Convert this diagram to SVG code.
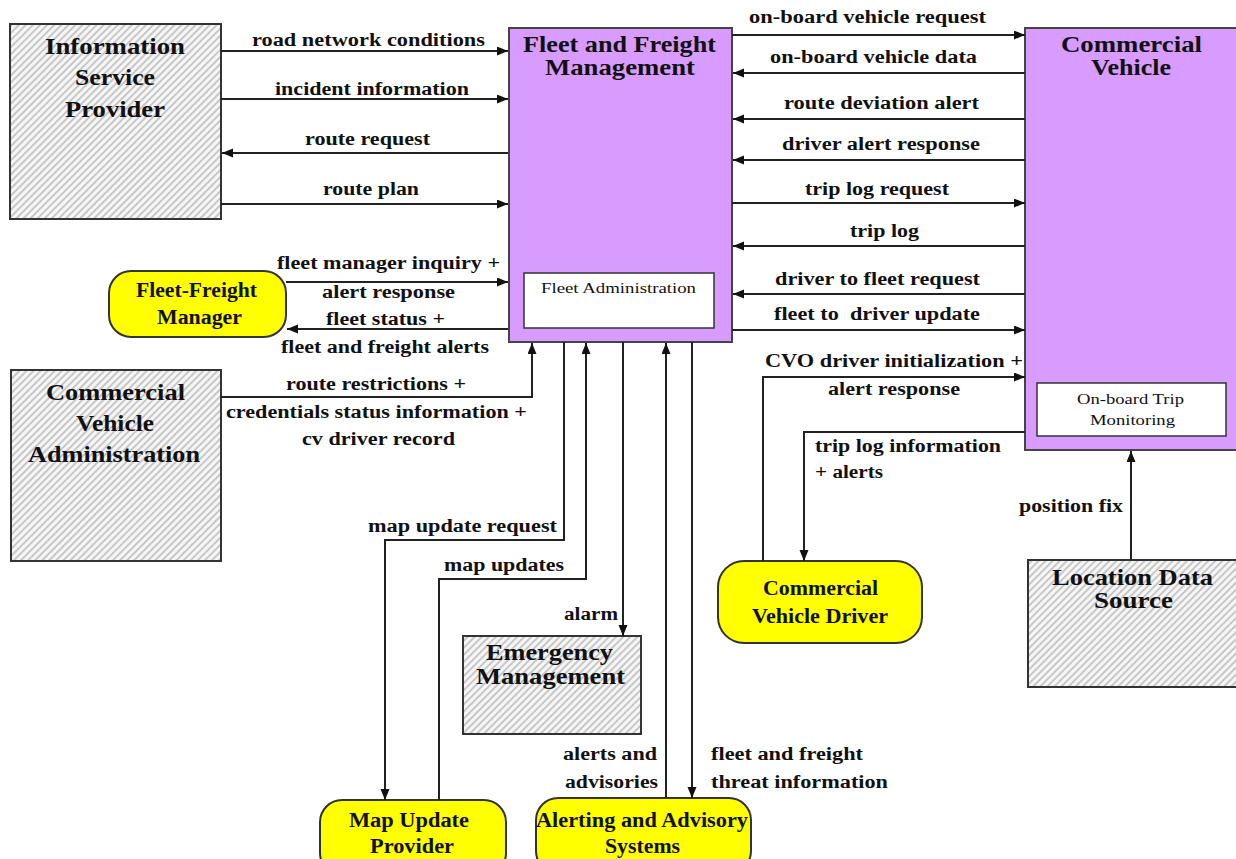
<svg xmlns="http://www.w3.org/2000/svg" width="1236" height="859" viewBox="0 0 1236 859">
<style>
.lbl{font-family:"Liberation Serif","Times New Roman",serif;font-weight:bold;font-size:18px;fill:#111}
.ttl{font-family:"Liberation Serif","Times New Roman",serif;font-weight:bold;font-size:23px;fill:#111}
.ttl2{font-family:"Liberation Serif","Times New Roman",serif;font-weight:bold;font-size:20px;fill:#111}
.sub{font-family:"Liberation Serif","Times New Roman",serif;font-size:15px;fill:#111}
.hatch{fill:url(#hatch);stroke:#333;stroke-width:2}
.purple{fill:#d89bff;stroke:#444;stroke-width:2}
.yellow{fill:#ffff00;stroke:#333;stroke-width:2}
.inner{fill:#fff;stroke:#333;stroke-width:1.5}
.con{fill:none;stroke:#222;stroke-width:2;marker-end:url(#arr)}
</style>
<defs>
<pattern id="hatch" patternUnits="userSpaceOnUse" width="5" height="5" patternTransform="rotate(45)">
<rect width="5" height="5" fill="#f6f6f6"/>
<line x1="1" y1="0" x2="1" y2="5" stroke="#b4b4b4" stroke-width="1.4"/>
</pattern>
<marker id="arr" markerUnits="userSpaceOnUse" markerWidth="12" markerHeight="10" refX="11" refY="4.5" orient="auto">
<path d="M0,0 L11,4.5 L0,9 z" fill="#111"/>
</marker>
</defs>
<rect width="1236" height="859" fill="#fff"/>

<g id="isp">
<rect class="hatch" x="10" y="24" width="211" height="195"/>
<text class="ttl" x="45" y="54" textLength="140" lengthAdjust="spacingAndGlyphs">Information</text>
<text class="ttl" x="75" y="85" textLength="80" lengthAdjust="spacingAndGlyphs">Service</text>
<text class="ttl" x="65" y="117" textLength="100" lengthAdjust="spacingAndGlyphs">Provider</text>
</g>

<g id="ffm">
<rect class="purple" x="509" y="28" width="223" height="314"/>
<text class="ttl" x="523" y="52" textLength="193" lengthAdjust="spacingAndGlyphs">Fleet and Freight</text>
<text class="ttl" x="545" y="75" textLength="150" lengthAdjust="spacingAndGlyphs">Management</text>
<rect class="inner" x="524" y="273" width="190" height="55"/>
<text class="sub" x="541" y="293" textLength="155" lengthAdjust="spacingAndGlyphs">Fleet Administration</text>
</g>

<g id="cv">
<rect class="purple" x="1025" y="28" width="220" height="422"/>
<text class="ttl" x="1061" y="52" textLength="141" lengthAdjust="spacingAndGlyphs">Commercial</text>
<text class="ttl" x="1091" y="75" textLength="80" lengthAdjust="spacingAndGlyphs">Vehicle</text>
<rect class="inner" x="1037" y="383" width="189" height="53"/>
<text class="sub" x="1077" y="404" textLength="107" lengthAdjust="spacingAndGlyphs">On-board Trip</text>
<text class="sub" x="1090" y="425" textLength="85" lengthAdjust="spacingAndGlyphs">Monitoring</text>
</g>

<g id="ffmgr">
<rect class="yellow" x="109" y="271" width="177" height="66" rx="22"/>
<text class="ttl2" x="136" y="297" textLength="121" lengthAdjust="spacingAndGlyphs">Fleet-Freight</text>
<text class="ttl2" x="157" y="324" textLength="85" lengthAdjust="spacingAndGlyphs">Manager</text>
</g>

<g id="cva">
<rect class="hatch" x="11" y="370" width="210" height="191"/>
<text class="ttl" x="46" y="400" textLength="139" lengthAdjust="spacingAndGlyphs">Commercial</text>
<text class="ttl" x="76" y="431" textLength="78" lengthAdjust="spacingAndGlyphs">Vehicle</text>
<text class="ttl" x="28" y="462" textLength="172" lengthAdjust="spacingAndGlyphs">Administration</text>
</g>

<g id="em">
<rect class="hatch" x="463" y="636" width="178" height="98"/>
<text class="ttl" x="486" y="660" textLength="127" lengthAdjust="spacingAndGlyphs">Emergency</text>
<text class="ttl" x="476" y="684" textLength="149" lengthAdjust="spacingAndGlyphs">Management</text>
</g>

<g id="mup">
<rect class="yellow" x="320" y="800" width="186" height="75" rx="22"/>
<text class="ttl2" x="349" y="827" textLength="120" lengthAdjust="spacingAndGlyphs">Map Update</text>
<text class="ttl2" x="370" y="853" textLength="84" lengthAdjust="spacingAndGlyphs">Provider</text>
</g>

<g id="aas">
<rect class="yellow" x="536" y="798" width="215" height="75" rx="22"/>
<text class="ttl2" x="536" y="827" textLength="212" lengthAdjust="spacingAndGlyphs">Alerting and Advisory</text>
<text class="ttl2" x="605" y="853" textLength="75" lengthAdjust="spacingAndGlyphs">Systems</text>
</g>

<g id="cvd">
<rect class="yellow" x="718" y="561" width="204" height="82" rx="26"/>
<text class="ttl2" x="763" y="595" textLength="115" lengthAdjust="spacingAndGlyphs">Commercial</text>
<text class="ttl2" x="752" y="623" textLength="136" lengthAdjust="spacingAndGlyphs">Vehicle Driver</text>
</g>

<g id="lds">
<rect class="hatch" x="1028" y="560" width="215" height="127"/>
<text class="ttl" x="1052" y="585" textLength="161" lengthAdjust="spacingAndGlyphs">Location Data</text>
<text class="ttl" x="1094" y="608" textLength="79" lengthAdjust="spacingAndGlyphs">Source</text>
</g>

<g id="connectors">
<path class="con" d="M221,51 H508"/>
<path class="con" d="M221,99 H508"/>
<path class="con" d="M508,153 H222"/>
<path class="con" d="M221,204 H508"/>
<path class="con" d="M286,282 H508"/>
<path class="con" d="M508,329 H287"/>
<path class="con" d="M221,397 H532 V343"/>
<path class="con" d="M564,342 V540 H385 V800"/>
<path class="con" d="M439,800 V579 H586 V343"/>
<path class="con" d="M623,342 V636"/>
<path class="con" d="M666,798 V343"/>
<path class="con" d="M692,342 V798"/>
<path class="con" d="M732,35 H1025"/>
<path class="con" d="M1025,73 H733"/>
<path class="con" d="M1025,119 H733"/>
<path class="con" d="M1025,160 H733"/>
<path class="con" d="M732,203 H1025"/>
<path class="con" d="M1025,246 H733"/>
<path class="con" d="M1025,294 H733"/>
<path class="con" d="M732,330 H1025"/>
<path class="con" d="M763,561 V377 H1025"/>
<path class="con" d="M1025,432 H804 V561"/>
<path class="con" d="M1131,560 V451"/>

<text class="lbl" x="252" y="46" textLength="233" lengthAdjust="spacingAndGlyphs">road network conditions</text>
<text class="lbl" x="275" y="95" textLength="194" lengthAdjust="spacingAndGlyphs">incident information</text>
<text class="lbl" x="305" y="145" textLength="125" lengthAdjust="spacingAndGlyphs">route request</text>
<text class="lbl" x="323" y="195" textLength="96" lengthAdjust="spacingAndGlyphs">route plan</text>
<text class="lbl" x="277" y="269" textLength="223" lengthAdjust="spacingAndGlyphs">fleet manager inquiry +</text>
<text class="lbl" x="322" y="298" textLength="133" lengthAdjust="spacingAndGlyphs">alert response</text>
<text class="lbl" x="326" y="325" textLength="119" lengthAdjust="spacingAndGlyphs">fleet status +</text>
<text class="lbl" x="281" y="353" textLength="208" lengthAdjust="spacingAndGlyphs">fleet and freight alerts</text>
<text class="lbl" x="286" y="390" textLength="180" lengthAdjust="spacingAndGlyphs">route restrictions +</text>
<text class="lbl" x="226" y="418" textLength="301" lengthAdjust="spacingAndGlyphs">credentials status information +</text>
<text class="lbl" x="302" y="445" textLength="153" lengthAdjust="spacingAndGlyphs">cv driver record</text>
<text class="lbl" x="368" y="532" textLength="189" lengthAdjust="spacingAndGlyphs">map update request</text>
<text class="lbl" x="444" y="571" textLength="120" lengthAdjust="spacingAndGlyphs">map updates</text>
<text class="lbl" x="564" y="620" textLength="54" lengthAdjust="spacingAndGlyphs">alarm</text>
<text class="lbl" x="563" y="760" textLength="94" lengthAdjust="spacingAndGlyphs">alerts and</text>
<text class="lbl" x="565" y="788" textLength="93" lengthAdjust="spacingAndGlyphs">advisories</text>
<text class="lbl" x="711" y="760" textLength="152" lengthAdjust="spacingAndGlyphs">fleet and freight</text>
<text class="lbl" x="711" y="788" textLength="177" lengthAdjust="spacingAndGlyphs">threat information</text>
<text class="lbl" x="749" y="23" textLength="237" lengthAdjust="spacingAndGlyphs">on-board vehicle request</text>
<text class="lbl" x="770" y="63" textLength="207" lengthAdjust="spacingAndGlyphs">on-board vehicle data</text>
<text class="lbl" x="784" y="109" textLength="195" lengthAdjust="spacingAndGlyphs">route deviation alert</text>
<text class="lbl" x="782" y="150" textLength="198" lengthAdjust="spacingAndGlyphs">driver alert response</text>
<text class="lbl" x="805" y="195" textLength="144" lengthAdjust="spacingAndGlyphs">trip log request</text>
<text class="lbl" x="850" y="237" textLength="69" lengthAdjust="spacingAndGlyphs">trip log</text>
<text class="lbl" x="775" y="285" textLength="205" lengthAdjust="spacingAndGlyphs">driver to fleet request</text>
<text class="lbl" x="774" y="320" textLength="206" lengthAdjust="spacingAndGlyphs" xml:space="preserve">fleet to  driver update</text>
<text class="lbl" x="765" y="367" textLength="258" lengthAdjust="spacingAndGlyphs">CVO driver initialization +</text>
<text class="lbl" x="828" y="395" textLength="132" lengthAdjust="spacingAndGlyphs">alert response</text>
<text class="lbl" x="815" y="452" textLength="186" lengthAdjust="spacingAndGlyphs">trip log information</text>
<text class="lbl" x="815" y="478" textLength="68" lengthAdjust="spacingAndGlyphs">+ alerts</text>
<text class="lbl" x="1019" y="512" textLength="104" lengthAdjust="spacingAndGlyphs">position fix</text>
</g>
</svg>
